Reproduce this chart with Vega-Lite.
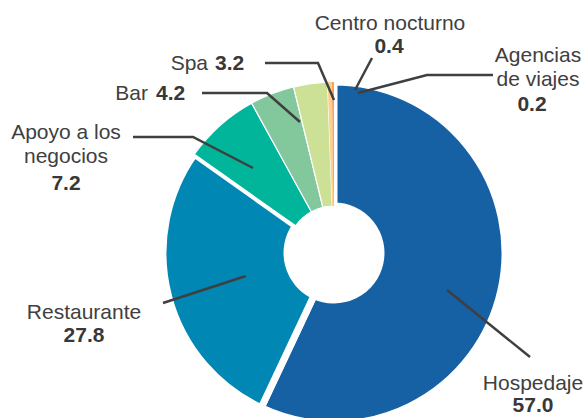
{
  "$schema": "https://vega.github.io/schema/vega-lite/v6.json",
  "width": 332,
  "height": 330,
  "autosize": {"type": "none"},
  "padding": {"left": 168, "right": 87, "top": 88, "bottom": 0},
  "background": "white",
  "config": {"view": {"stroke": null}, "font": "Liberation Sans"},
  "data": {
    "values": [
      {"cat": "Hospedaje", "label": "Hospedaje", "value": 57.0},
      {"cat": "Restaurante", "label": "Restaurante", "value": 27.8},
      {"cat": "Apoyo a los negocios", "label": ["Apoyo a los", "negocios"], "value": 7.2},
      {"cat": "Bar", "label": "Bar", "value": 4.2},
      {"cat": "Spa", "label": "Spa", "value": 3.2},
      {"cat": "Centro nocturno", "label": "Centro nocturno", "value": 0.4},
      {"cat": "Agencias de viajes", "label": ["Agencias", "de viajes"], "value": 0.2}
    ]
  },
  "layer": [
    {
      "mark": {"type": "arc", "innerRadius": 47, "outerRadius": 171, "stroke": "white", "strokeJoin": "bevel"},
      "encoding": {
        "theta": {"field": "value", "type": "quantitative", "stack": true},
        "order": {"field": "value", "sort": "descending"},
        "color": {
          "field": "cat",
          "type": "nominal",
          "scale": {
            "domain": ["Hospedaje", "Restaurante", "Apoyo a los negocios", "Bar", "Spa", "Centro nocturno", "Agencias de viajes"],
            "range": ["#1660a4", "#0087b4", "#00b59a", "#82c89c", "#cde196", "#fdd08c", "#f7a35f"]
          },
          "legend": null
        },
        "strokeWidth": {
          "condition": [
            {"test": "datum.value > 20", "value": 7},
            {"test": "datum.value < 1", "value": 0}
          ],
          "value": 1.2
        }
      }
    },
    {
      "mark": {"type": "point", "filled": false, "size": 4, "opacity": 1, "stroke": "#3f3f3f", "color": "#3f3f3f", "strokeWidth": 2.5},
      "encoding": {
        "shape": {
          "field": "cat",
          "type": "nominal",
          "scale": {
            "domain": ["Hospedaje", "Restaurante", "Apoyo a los negocios", "Bar", "Spa", "Centro nocturno", "Agencias de viajes"],
            "range": [
              "M113,37L196,104",
              "M-88,23L-171,50",
              "M-81,-85L-141,-116L-201,-116",
              "M-34,-131L-67,-160L-132,-160",
              "M0,-153L-16,-190L-69,-190",
              "M21,-163L38,-195",
              "M24,-160L93,-178L159,-178"
            ]
          },
          "legend": null
        }
      }
    },
    {
      "mark": {
        "type": "text",
        "fontSize": 21,
        "color": "#404040",
        "baseline": "alphabetic",
        "lineHeight": 24,
        "align": {"expr": "['center','center','center','right','right','center','center'][indexof(['Hospedaje','Restaurante','Apoyo a los negocios','Bar','Spa','Centro nocturno','Agencias de viajes'], datum.cat)]"},
        "dx": {"expr": "[199,-250,-268,-186,-126,56,204][indexof(['Hospedaje','Restaurante','Apoyo a los negocios','Bar','Spa','Centro nocturno','Agencias de viajes'], datum.cat)]"},
        "dy": {"expr": "[137,66,-114,-153,-183,-223,-191][indexof(['Hospedaje','Restaurante','Apoyo a los negocios','Bar','Spa','Centro nocturno','Agencias de viajes'], datum.cat)]"}
      },
      "encoding": {"text": {"field": "label", "type": "nominal"}}
    },
    {
      "mark": {
        "type": "text",
        "fontSize": 21,
        "fontWeight": "bold",
        "color": "#383838",
        "baseline": "alphabetic",
        "align": {"expr": "['center','center','center','left','left','center','center'][indexof(['Hospedaje','Restaurante','Apoyo a los negocios','Bar','Spa','Centro nocturno','Agencias de viajes'], datum.cat)]"},
        "dx": {"expr": "[199,-250,-268,-178,-119,55,198][indexof(['Hospedaje','Restaurante','Apoyo a los negocios','Bar','Spa','Centro nocturno','Agencias de viajes'], datum.cat)]"},
        "dy": {"expr": "[159,89,-63,-153,-183,-200,-142][indexof(['Hospedaje','Restaurante','Apoyo a los negocios','Bar','Spa','Centro nocturno','Agencias de viajes'], datum.cat)]"}
      },
      "encoding": {"text": {"field": "value", "type": "quantitative", "format": ".1f"}}
    }
  ]
}
